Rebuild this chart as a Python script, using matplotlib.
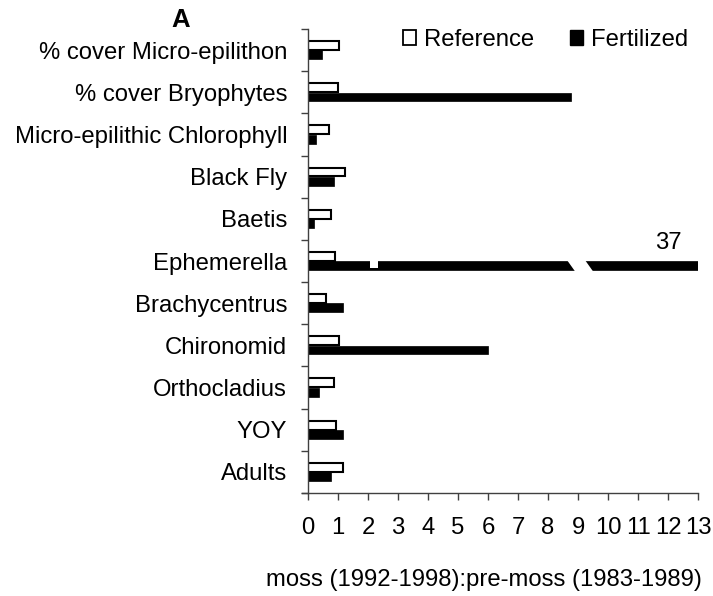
import numpy as np
import matplotlib
matplotlib.use("Agg")
import matplotlib.pyplot as plt
from matplotlib.patches import Patch, Polygon, Rectangle

plt.rcParams["font.family"] = ["Liberation Sans", "DejaVu Sans"]

# ── data ────────────────────────────────────────────────────────────────────
categories = [
    "% cover Micro-epilithon",
    "% cover Bryophytes",
    "Micro-epilithic Chlorophyll",
    "Black Fly",
    "Baetis",
    "Ephemerella",
    "Brachycentrus",
    "Chironomid",
    "Orthocladius",
    "YOY",
    "Adults",
]
reference = [1.03, 1.0, 0.7, 1.23, 0.77, 0.9, 0.6, 1.03, 0.87, 0.93, 1.17]
fertilized = [0.47, 8.77, 0.25, 0.87, 0.19, 37.0, 1.17, 6.0, 0.38, 1.17, 0.77]
x_ticks = list(range(0, 14))
XMAX = 13

FS = 17.2

# ── figure ──────────────────────────────────────────────────────────────────
fig = plt.figure(figsize=(7.13, 5.96), dpi=100)
ax = fig.add_axes([0.432, 0.1728, 0.979 - 0.432, 0.9513 - 0.1728])

y = np.arange(len(categories))
h = 0.21
fert_shown = np.minimum(fertilized, XMAX)

ax.barh(y - h / 2 - 0.005, reference, height=h, color="white",
        edgecolor="black", linewidth=1.5, label="Reference", zorder=2)
ax.barh(y + h / 2 + 0.005, fert_shown, height=h, color="black",
        edgecolor="black", linewidth=0.5, label="Fertilized", zorder=2)

# broken bar for the off-scale value
for i, v in enumerate(fertilized):
    if v > XMAX:
        yc = i + h / 2 + 0.005
        top, bot = yc - h / 2 - 0.03, yc + h / 2 + 0.03
        ax.add_patch(Polygon([(8.63, top), (9.23, top), (9.5, bot), (8.9, bot)],
                             closed=True, facecolor="white", edgecolor="none",
                             zorder=3))
        ax.add_patch(Rectangle((2.07, top), 0.26, (bot - top) * 0.7,
                               facecolor="white", edgecolor="none", zorder=3))
        ax.text(12.0, i - 0.42, f"{v:.0f}", ha="center", va="center",
                fontsize=FS)

ax.set_xlim(0, XMAX)
ax.set_ylim(len(categories) - 0.5, -0.5)

ax.set_yticks(y)
ax.set_yticklabels(categories, fontsize=FS)
ax.set_yticks(np.arange(len(categories) + 1) - 0.5, minor=True)
ax.tick_params(axis="y", which="major", length=0, pad=15)
ax.tick_params(axis="y", which="minor", length=5, width=1, color="#404040")

ax.set_xticks(x_ticks)
ax.set_xticklabels([str(t) for t in x_ticks], fontsize=FS)
ax.tick_params(axis="x", length=5, width=1, color="#404040", pad=12)

for s in ["top", "right"]:
    ax.spines[s].set_visible(False)
for s in ["left", "bottom"]:
    ax.spines[s].set_color("#404040")
    ax.spines[s].set_linewidth(1)
ax.spines["bottom"].set_bounds(-0.2, XMAX)

handles = [Patch(facecolor="white", edgecolor="black", linewidth=1.3),
           Patch(facecolor="black", edgecolor="black")]
ax.legend(handles, ["Reference", "Fertilized"], ncol=2, frameon=False,
          fontsize=FS, loc="upper right",
          bbox_to_anchor=(688 / 713, 1 - 29 / 596),
          bbox_transform=fig.transFigure,
          handlelength=0.55, handleheight=0.55, handletextpad=0.33,
          columnspacing=1.5, borderaxespad=0, borderpad=0)

fig.text(484 / 713, 1 - 580 / 596, "moss (1992-1998):pre-moss (1983-1989)",
         ha="center", va="center", fontsize=FS)
fig.text(181 / 713, 1 - 20 / 596, "A", ha="center", va="center",
         fontsize=18.5, fontweight="bold")

fig.savefig("out.png", dpi=100)
